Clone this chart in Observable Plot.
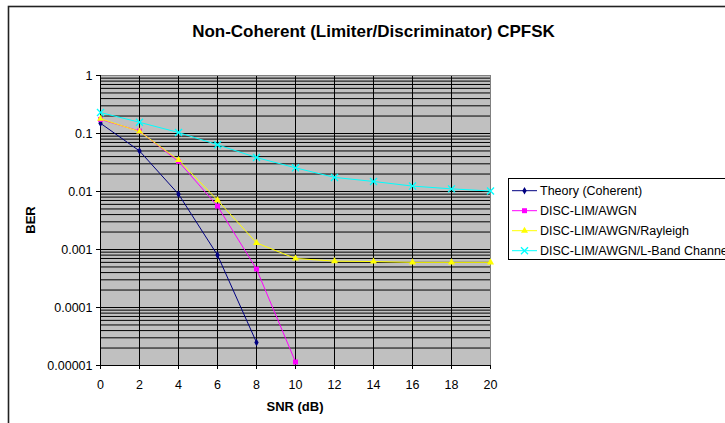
<!DOCTYPE html>
<html><head><meta charset="utf-8">
<script src="https://cdn.jsdelivr.net/npm/d3@7"></script>
<script src="https://cdn.jsdelivr.net/npm/@observablehq/plot@0.6"></script>
<style>
html,body{margin:0;padding:0;background:#fff;}
#chart{width:725px;height:423px;overflow:hidden;position:relative;}
</style>
</head><body><div id="chart"></div>
<script>
// ---- data ----
const snr = [0, 2, 4, 6, 8, 10, 12, 14, 16, 18, 20];
const theoryBER = [0.15, 0.05, 0.009, 0.0008, 0.000025];
const awgnBER = [0.175, 0.11, 0.033, 0.0056, 0.00046, 0.0000115];
const rayleighBER = [0.18, 0.108, 0.035, 0.0071, 0.0013, 0.0007, 0.00063, 0.00062, 0.0006, 0.0006, 0.0006];
const lbandBER = [0.23, 0.156, 0.104, 0.064, 0.0385, 0.0256, 0.0175, 0.0149, 0.0124, 0.0111, 0.0102];
const seriesNames = ["Theory (Coherent)", "DISC-LIM/AWGN", "DISC-LIM/AWGN/Rayleigh", "DISC-LIM/AWGN/L-Band Channel"];
const seriesValues = [theoryBER, awgnBER, rayleighBER, lbandBER];
const seriesColors = ["#000080", "#FF00FF", "#FFFF00", "#00FFFF"];
const seriesSymbols = ["diamond", "square", "triangle", "times"];
const xTickValues = [0, 2, 4, 6, 8, 10, 12, 14, 16, 18, 20];
const yTickValues = [1, 0.1, 0.01, 0.001, 0.0001, 0.00001];
const titleText = "Non-Coherent (Limiter/Discriminator) CPFSK";
const xLabel = "SNR (dB)";
const yLabel = "BER";

// ---- build ----
const FONT = "'Liberation Sans', Arial, Helvetica, sans-serif";
const symbolR = {diamond: 2.3, square: 2.8, triangle: 2.6, times: 3.3};
const filled = {diamond: true, square: true, triangle: true, times: false};

const series = seriesNames.map((name, i) => ({
  name, color: seriesColors[i], symbol: seriesSymbols[i],
  data: seriesValues[i].map((v, j) => ({snr: snr[j], ber: v}))
}));

// minor gridlines: 1..9 x each decade
const gridY = [];
for (let e = -5; e < 0; e++) for (let m = 1; m <= 9; m++) gridY.push(+(m * Math.pow(10, e)).toPrecision(3));
gridY.push(1);

const marks = [
  Plot.frame({fill: "#C0C0C0", stroke: null}),
  Plot.ruleY(gridY, {stroke: "#000", strokeWidth: 1}),
  Plot.ruleX(xTickValues.filter(d => d > 0 && d < 20), {stroke: "#000", strokeWidth: 1}),
  Plot.frame({stroke: "#808080", strokeWidth: 1}),
  Plot.ruleX([0], {stroke: "#000"}),
  Plot.ruleY([0.00001], {stroke: "#000"}),
  Plot.axisX({ticks: xTickValues, tickSize: 4, tickPadding: 11, label: null, tickFormat: d => String(d)}),
  Plot.axisY({ticks: yTickValues, tickSize: 4, tickPadding: 4, label: null, tickFormat: d => String(d)})
];
for (const s of series) {
  marks.push(Plot.line(s.data, {x: "snr", y: "ber", stroke: s.color, strokeWidth: 1}));
}
for (const s of series) {
  marks.push(Plot.dot(s.data, {
    x: "snr", y: "ber", symbol: s.symbol, r: symbolR[s.symbol],
    fill: filled[s.symbol] ? s.color : "none",
    stroke: filled[s.symbol] ? "none" : s.color,
    strokeWidth: 1.3
  }));
}

const svgNode = Plot.plot({
  width: 725, height: 423,
  marginLeft: 100, marginRight: 235, marginTop: 75, marginBottom: 58,
  x: {domain: [0, 20], label: null},
  y: {type: "log", domain: [0.00001, 1], label: null},
  style: {fontFamily: FONT, fontSize: "12.5px", color: "#000", background: "transparent", overflow: "visible"},
  marks
});
document.getElementById("chart").appendChild(svgNode);

// ---- text & legend overlays ----
const svg = d3.select(svgNode);
svg.append("rect").attr("x", 8.5).attr("y", 6.5).attr("width", 900).attr("height", 600)
  .attr("fill", "none").attr("stroke", "#222").attr("stroke-width", 1.6);

svg.append("text").attr("x", 373.5).attr("y", 37.3).attr("text-anchor", "middle")
  .attr("font-family", FONT).attr("font-size", 17).attr("font-weight", "bold").attr("fill", "#000")
  .text(titleText);
svg.append("text").attr("transform", "translate(35,220) rotate(-90)").attr("text-anchor", "middle")
  .attr("font-family", FONT).attr("font-size", 13).attr("font-weight", "bold").attr("fill", "#000")
  .text(yLabel);
svg.append("text").attr("x", 295).attr("y", 411).attr("text-anchor", "middle")
  .attr("font-family", FONT).attr("font-size", 13).attr("font-weight", "bold").attr("fill", "#000")
  .text(xLabel);

const lg = svg.append("g");
lg.append("rect").attr("x", 508.5).attr("y", 178.5).attr("width", 300).attr("height", 81)
  .attr("fill", "#fff").attr("stroke", "#000").attr("stroke-width", 1);
const d3sym = {diamond: d3.symbolDiamond, square: d3.symbolSquare, triangle: d3.symbolTriangle, times: d3.symbolTimes};
series.forEach((s, i) => {
  const cy = 190.7 + 20 * i;
  lg.append("line").attr("x1", 512).attr("x2", 537).attr("y1", cy).attr("y2", cy)
    .attr("stroke", s.color).attr("stroke-width", 1);
  const r = symbolR[s.symbol];
  lg.append("path").attr("transform", `translate(524.5,${cy})`)
    .attr("d", d3.symbol(d3sym[s.symbol], r * r * Math.PI)())
    .attr("fill", filled[s.symbol] ? s.color : "none")
    .attr("stroke", filled[s.symbol] ? "none" : s.color).attr("stroke-width", 1.3);
  lg.append("text").attr("x", 540).attr("y", cy + 4.4).attr("text-anchor", "start")
    .attr("font-family", FONT).attr("font-size", 12.5).attr("fill", "#000").text(s.name);
});
</script>
</body></html>
